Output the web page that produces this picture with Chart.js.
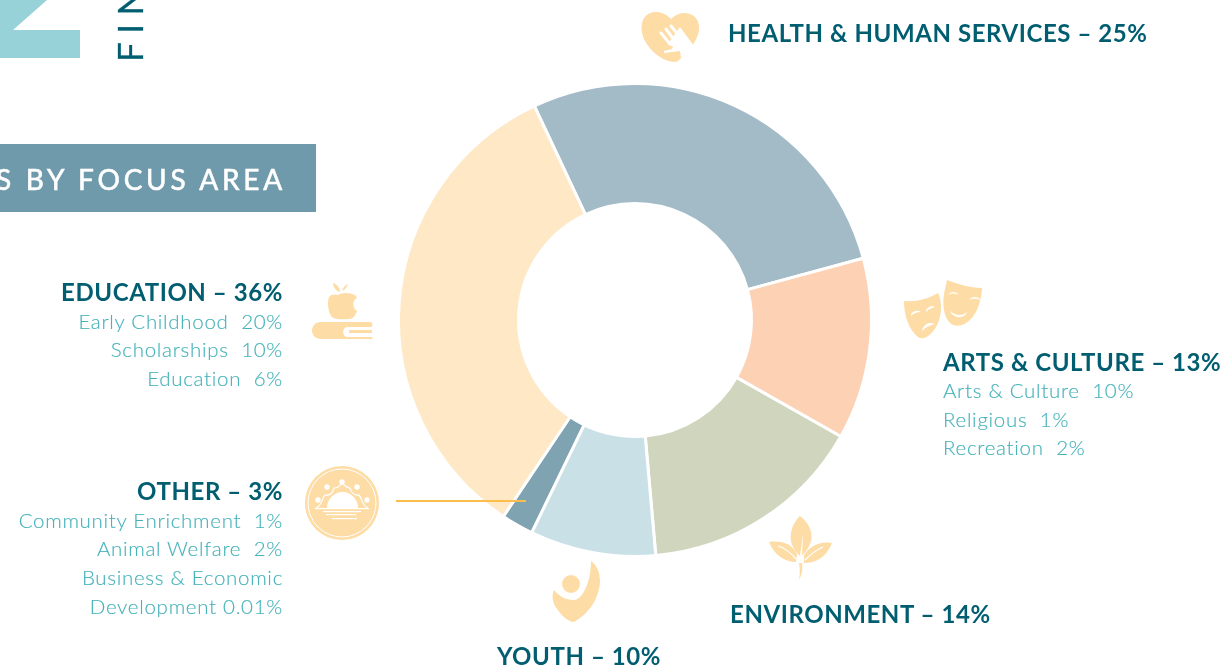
<!DOCTYPE html>
<html><head><meta charset="utf-8">
<script src="https://cdn.jsdelivr.net/npm/chart.js@4"></script>
<style>
html,body{margin:0;padding:0;background:#fff;overflow:hidden;width:1223px;height:672px}
#c{position:absolute;left:0;top:0;width:1223px;height:672px}
#o{position:absolute;left:0;top:0;pointer-events:none}
text{font-family:Lato,sans-serif;white-space:pre}
.h{font-size:24px;font-weight:700;fill:#005E70;letter-spacing:.58px}
.s{font-size:20.5px;font-weight:300;fill:#45B2B9;stroke:#45B2B9;stroke-width:.15;letter-spacing:.7px}
.i{fill:#FEDCA6}
.w{fill:#fff}
</style></head><body>
<canvas id="c" width="1223" height="672"></canvas>
<svg id="o" width="1223" height="672" viewBox="0 0 1223 672">
<polygon points="0,0 47,0 13,30 80,30 80,58 0,58" fill="#97D2D8"/>
<text transform="translate(143,62) rotate(-90)" style="font-size:35px;font-weight:400;fill:#005E70;stroke:#005E70;stroke-width:.3;letter-spacing:8.5px">FIN</text>
<rect x="0" y="144" width="316" height="68" fill="#6F9AAB"/>
<text x="286" y="190" text-anchor="end" style="font-size:28px;font-weight:400;fill:#fff;stroke:#fff;stroke-width:.6;letter-spacing:3.75px">S BY FOCUS AREA</text>

<text x="728" y="42" class="h">HEALTH &amp; HUMAN SERVICES – 25%</text>
<text x="943" y="371" class="h">ARTS &amp; CULTURE – 13%</text>
<text x="943" y="398" class="s">Arts &amp; Culture  10%</text>
<text x="943" y="427" class="s">Religious  1%</text>
<text x="943" y="455" class="s">Recreation  2%</text>
<text x="730" y="623" class="h">ENVIRONMENT – 14%</text>
<text x="497" y="665" class="h">YOUTH – 10%</text>
<text x="283" y="301" text-anchor="end" class="h">EDUCATION – 36%</text>
<text x="283" y="329" text-anchor="end" class="s">Early Childhood  20%</text>
<text x="283" y="357" text-anchor="end" class="s">Scholarships  10%</text>
<text x="283" y="386" text-anchor="end" class="s">Education  6%</text>
<text x="283" y="500" text-anchor="end" class="h">OTHER – 3%</text>
<text x="283" y="528" text-anchor="end" class="s">Community Enrichment  1%</text>
<text x="283" y="556" text-anchor="end" class="s">Animal Welfare  2%</text>
<text x="283" y="585" text-anchor="end" class="s">Business &amp; Economic</text>
<text x="283" y="614" text-anchor="end" class="s">Development 0.01%</text>

<line x1="396" y1="501" x2="526" y2="501" stroke="#FBBE4E" stroke-width="2"/>

<!-- heart + hand -->
<path class="i" d="M671,19 C663,10 648,9 643,20 C638,32 646,48 660,57 C666,61 676,64 679,60 C690,50 700,38 699,26 C698,13 682,8 671,19Z"/>
<path class="w" d="M668,44 L680,27 L694,46 L681,58 L680,51 L664,53 L664,51 C669,50 673,49 673,47Z"/>
<path fill="none" stroke="#fff" stroke-width="3" stroke-linecap="round" d="M661,33 L670,44 M666,29 L675,41 M671,26 L680,37"/>

<!-- masks -->
<path class="i" d="M947,280 C958,284 970,288 982,288 C981,305 975,320 962,325 C953,328 946,322 944,310 C942,298 945,290 947,280Z"/>
<path class="w" d="M948,295 C951,291 956,291 959,295 C955,293 952,293 948,295Z M969,300 C972,296 977,296 981,300 C977,299 973,298 969,300Z M950,311 C956,316 963,316 967,312 C965,319 953,319 950,311Z"/>
<path class="i" d="M904,301 C916,302 928,299 938,293 C943,302 942,320 934,330 C928,338 922,340 918,337 C909,330 904,316 904,301Z"/>
<path class="w" d="M911,314 C914,310 918,310 921,312 C917,312 914,313 911,316Z M926,310 C929,306 933,305 935,307 C932,308 929,309 926,312Z M922,331 C923,325 929,321 935,324 C930,325 926,327 922,331Z"/>

<!-- apple + book -->
<path class="i" d="M338,295 C344,292 350,293 355,295 L357,298 C352,300 352,308 357,311 C355,316 353,319 349,319 C343,319 338,320 333,318 C328,314 327,302 329,297 C331,294 335,294 338,295Z"/>
<path class="i" d="M340,292 C336,291 333,287 333,283 C337,284 340,288 340,292Z M342,291 C343,288 345,285 348,284 C347,287 345,290 342,291Z"/>
<path class="i" d="M321,322 L371,322 C373,324 373,326 371,327 L347,327 C342,327 342,337 347,337 L372,337 C373,338 373,339 371,339 L321,339 C309,339 309,322 321,322Z"/>
<path class="i" d="M349,330 L372,330 L372,333 L349,333Z"/>

<!-- other badge -->
<circle class="i" cx="342" cy="503" r="37"/>
<circle cx="342" cy="503" r="34" fill="none" stroke="#fff" stroke-width="1"/>
<path class="w" d="M327,508 A15.5,16 0 0 1 358,508Z"/>
<rect class="w" x="315" y="508" width="54" height="1.2"/>
<path fill="none" stroke="#fff" stroke-width="1.2" d="M316,508 C322,506 322,498 325,495 C331,496 333,492 334,488 C338,488 340,486 342,483 C345,486 347,488 350,488 C351,492 354,496 359,495 C362,498 362,506 368,508"/>
<circle class="w" cx="342" cy="482" r="2.7"/><circle class="w" cx="327" cy="487" r="2.7"/><circle class="w" cx="357" cy="487" r="2.7"/><circle class="w" cx="318" cy="500" r="2.7"/><circle class="w" cx="367" cy="500" r="2.7"/>
<rect class="w" x="323" y="511" width="38" height="1.2"/><rect class="w" x="326" y="514" width="30" height="1.2"/><rect class="w" x="332" y="518" width="25" height="1.2"/>

<!-- leaf -->
<path class="i" d="M800,516 C810,524 814,534 810,544 C808,550 804,553 802,556 L803,534 L800,556 C794,550 789,542 791,533 C792,526 796,520 800,516Z"/>
<path class="i" d="M769,542 C782,540 792,544 797,554 L796,562 C785,562 775,556 769,542Z"/>
<path class="i" d="M832,543 C820,541 810,546 804,555 L804,563 C815,563 826,558 832,543Z"/>
<path class="i" d="M799,563 L802,563 C803,569 802,575 799,580 C800,574 800,569 799,563Z"/>
<path fill="none" stroke="#fff" stroke-width="1.2" d="M778,546 C785,548 791,553 796,559 M823,547 C816,550 811,554 805,560"/>

<!-- youth -->
<circle class="i" cx="571" cy="584" r="9"/>
<path class="i" d="M591,561 C597,565 600,573 600,582 C599,598 590,613 574,622 C569,622 562,617 555,606 C552,600 552,594 554,590 C559,596 565,600 574,600 C582,600 591,583 591,561Z"/>
</svg>
<script>
const categories = ['Health & Human Services','Arts & Culture','Environment','Youth','Other','Education'];
const drawnShares = [27.8,12.4,15.4,8.6,2.2,33.6];
const sliceColors = ['#A3BBC6','#FCD1B4','#D0D6BE','#C9E1E6','#7FA3B1','#FEE8C5'];
new Chart(document.getElementById('c'),{
  type:'doughnut',
  data:{labels:categories,datasets:[{data:drawnShares,backgroundColor:sliceColors,borderColor:'#fff',borderWidth:3,borderAlign:'center'}]},
  options:{
    responsive:false,animation:false,rotation:-25.2,cutout:116.5,
    layout:{padding:{left:397,right:350,top:82,bottom:114}},
    plugins:{legend:{display:false},tooltip:{enabled:false}}
  }
});
</script>
</body></html>
